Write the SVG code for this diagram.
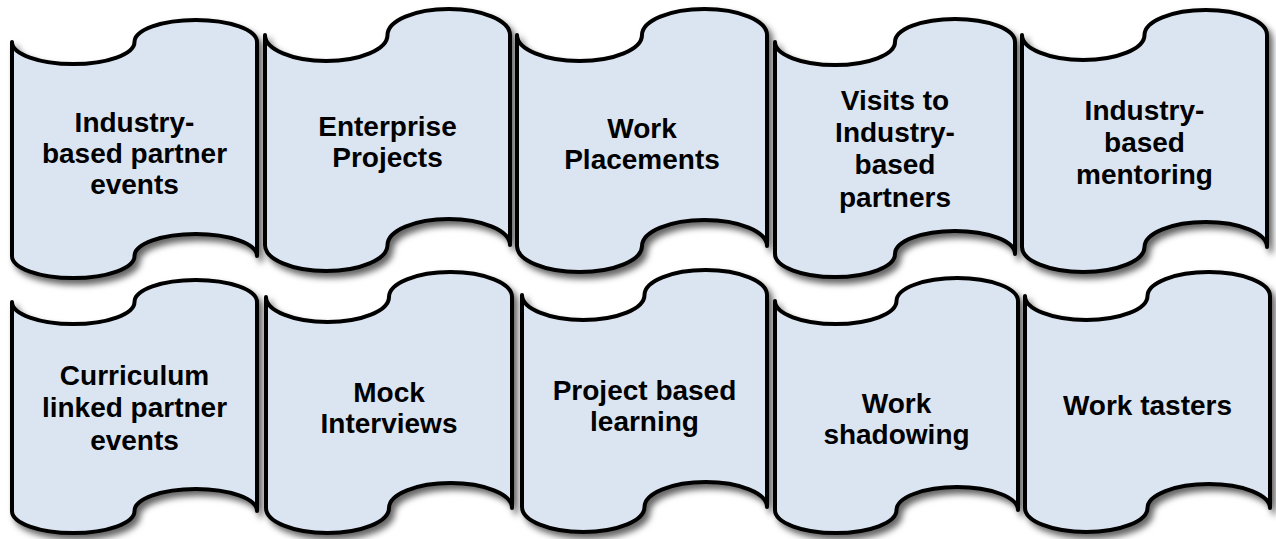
<svg xmlns="http://www.w3.org/2000/svg" width="1276" height="539" viewBox="0 0 1276 539">
  <defs>
    <filter id="shadow" x="-5%" y="-5%" width="115%" height="115%">
      <feDropShadow dx="4" dy="5" stdDeviation="3" flood-color="#000" flood-opacity="0.6"/>
    </filter>
    <style>
      .tape { fill: #DBE5F1; stroke: #000; stroke-width: 4; stroke-linejoin: round; filter: url(#shadow); }
      .label { font-family: "Liberation Sans", Arial, sans-serif; font-weight: bold; font-size: 28px; fill: #000; text-anchor: middle; }
    </style>
  </defs>
  <rect width="1276" height="539" fill="#fff"/>

  <!-- Row 1 -->
  <g id="node-industry-partner-events">
    <path class="tape" d="M12,42 A61.25,22 0 0 0 134.5,42 A61.25,22 0 0 1 257,42 L257,256 A61.25,22 0 0 0 134.5,256 A61.25,22 0 0 1 12,256 Z"/>
    <text class="label" x="134.5" y="132">Industry-</text>
    <text class="label" x="134.5" y="163">based partner</text>
    <text class="label" x="134.5" y="194">events</text>
  </g>
  <g id="node-enterprise-projects">
    <path class="tape" d="M265,35 A61.25,26 0 0 0 387.5,35 A61.25,26 0 0 1 510,35 L510,245 A61.25,26 0 0 0 387.5,245 A61.25,26 0 0 1 265,245 Z"/>
    <text class="label" x="387.5" y="136">Enterprise</text>
    <text class="label" x="387.5" y="167">Projects</text>
  </g>
  <g id="node-work-placements">
    <path class="tape" d="M517,35 A62.5,26 0 0 0 642,35 A62.5,26 0 0 1 767,35 L767,246 A62.5,26 0 0 0 642,246 A62.5,26 0 0 1 517,246 Z"/>
    <text class="label" x="642" y="138">Work</text>
    <text class="label" x="642" y="169">Placements</text>
  </g>
  <g id="node-visits-partners">
    <path class="tape" d="M775,42 A60,23 0 0 0 895,42 A60,23 0 0 1 1015,42 L1015,254 A60,23 0 0 0 895,254 A60,23 0 0 1 775,254 Z"/>
    <text class="label" x="895" y="110">Visits to</text>
    <text class="label" x="895" y="142">Industry-</text>
    <text class="label" x="895" y="174">based</text>
    <text class="label" x="895" y="207">partners</text>
  </g>
  <g id="node-industry-mentoring">
    <path class="tape" d="M1022,35 A61.25,25 0 0 0 1144.5,35 A61.25,25 0 0 1 1267,35 L1267,247 A61.25,25 0 0 0 1144.5,247 A61.25,25 0 0 1 1022,247 Z"/>
    <text class="label" x="1144.5" y="120">Industry-</text>
    <text class="label" x="1144.5" y="152">based</text>
    <text class="label" x="1144.5" y="184">mentoring</text>
  </g>

  <!-- Row 2 -->
  <g id="node-curriculum-events">
    <path class="tape" d="M12,302 A61.25,22 0 0 0 134.5,302 A61.25,22 0 0 1 257,302 L257,511 A61.25,22 0 0 0 134.5,511 A61.25,22 0 0 1 12,511 Z"/>
    <text class="label" x="134.5" y="385">Curriculum</text>
    <text class="label" x="134.5" y="417">linked partner</text>
    <text class="label" x="134.5" y="450">events</text>
  </g>
  <g id="node-mock-interviews">
    <path class="tape" d="M266,297 A61.5,25 0 0 0 389,297 A61.5,25 0 0 1 512,297 L512,508 A61.5,25 0 0 0 389,508 A61.5,25 0 0 1 266,508 Z"/>
    <text class="label" x="389" y="402">Mock</text>
    <text class="label" x="389" y="433">Interviews</text>
  </g>
  <g id="node-project-learning">
    <path class="tape" d="M522,295 A61.25,25 0 0 0 644.5,295 A61.25,25 0 0 1 767,295 L767,507 A61.25,25 0 0 0 644.5,507 A61.25,25 0 0 1 522,507 Z"/>
    <text class="label" x="644.5" y="400">Project based</text>
    <text class="label" x="644.5" y="431">learning</text>
  </g>
  <g id="node-work-shadowing">
    <path class="tape" d="M775,301 A60.75,23 0 0 0 896.5,301 A60.75,23 0 0 1 1018,301 L1018,510 A60.75,23 0 0 0 896.5,510 A60.75,23 0 0 1 775,510 Z"/>
    <text class="label" x="896.5" y="413">Work</text>
    <text class="label" x="896.5" y="444">shadowing</text>
  </g>
  <g id="node-work-tasters">
    <path class="tape" d="M1025,296 A61.25,24 0 0 0 1147.5,296 A61.25,24 0 0 1 1270,296 L1270,508 A61.25,24 0 0 0 1147.5,508 A61.25,24 0 0 1 1025,508 Z"/>
    <text class="label" x="1147.5" y="415">Work tasters</text>
  </g>

  <!-- no connectors between the tiles -->
  <g id="connectors"/>
</svg>
